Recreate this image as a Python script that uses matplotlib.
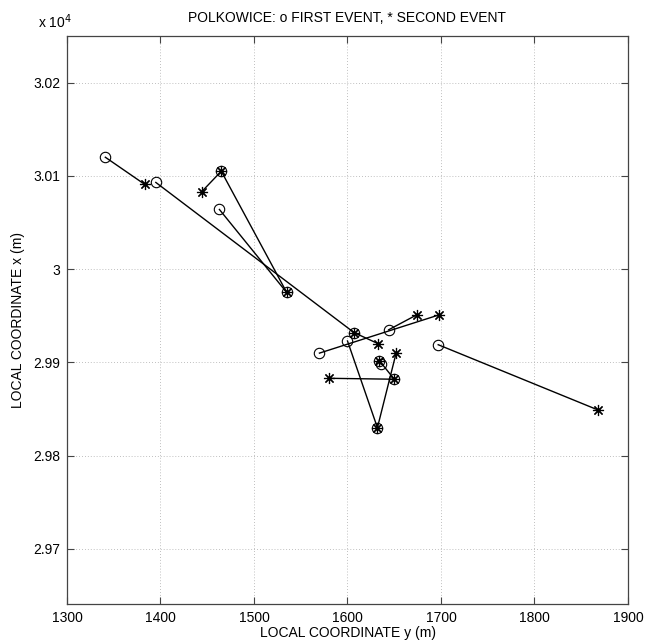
import matplotlib
matplotlib.use("Agg")
import matplotlib.pyplot as plt

# first event (circle) coordinates: local y (m), local x (m)
first_y = [1341, 1395, 1463, 1535, 1465, 1607, 1570, 1644, 1600, 1632, 1634, 1650, 1697, 1636]
first_x = [30120, 30093, 30064, 29975, 30105, 29932, 29910, 29935, 29923, 29830, 29902, 29882, 29919, 29898]
# second event (star) coordinates
second_y = [1383, 1607, 1535, 1465, 1444, 1633, 1698, 1674, 1632, 1652, 1650, 1580, 1868, 1634]
second_x = [30091, 29932, 29975, 30105, 30083, 29920, 29951, 29951, 29830, 29910, 29882, 29883, 29849, 29902]

xticks = [1300, 1400, 1500, 1600, 1700, 1800, 1900]
yticks = [29700, 29800, 29900, 30000, 30100, 30200]
ytick_labels = ["2.97", "2.98", "2.99", "3", "3.01", "3.02"]

plt.rcParams['font.family'] = ['Liberation Sans', 'DejaVu Sans']

fig = plt.figure(figsize=(6.46, 6.41), dpi=100)
ax = fig.add_axes([67/646, 1-604/641, 561/646, 568/641])

for y1, x1, y2, x2 in zip(first_y, first_x, second_y, second_x):
    ax.plot([y1, y2], [x1, x2], color='black', lw=1.0, zorder=3)
ax.plot(second_y, second_x, linestyle='none', marker=(8, 2, 0), markersize=8,
        markeredgecolor='black', markeredgewidth=0.85, zorder=4)
ax.plot(first_y, first_x, linestyle='none', marker='o', markersize=7.5,
        markerfacecolor='none', markeredgecolor='black', markeredgewidth=0.8, zorder=5)

ax.set_xlim(1300, 1900)
ax.set_ylim(29641, 30250)
ax.set_xticks(xticks)
ax.set_xticklabels([str(t) for t in xticks])
ax.set_yticks(yticks)
ax.set_yticklabels(ytick_labels)

ax.grid(True, color='#aaaaaa', linestyle=(0, (1, 2.5)), linewidth=0.6)
ax.set_axisbelow(True)
ax.tick_params(direction='in', top=True, right=True, length=5, width=0.8,
               labelsize=10, pad=5, colors='#444444', labelcolor='black')
for s in ax.spines.values():
    s.set_color('#444444')
    s.set_linewidth(0.9)

ax.set_title("POLKOWICE: o FIRST EVENT, * SECOND EVENT", fontsize=10, pad=10)
ax.set_xlabel("LOCAL COORDINATE y (m)", fontsize=10, labelpad=1)
ax.set_ylabel("LOCAL COORDINATE x (m)", fontsize=10, labelpad=6)
fig.text(38/646, 1-22/641, r"x 10$^{4}$", fontsize=10, va='center', ha='left')

fig.savefig("out.png", dpi=100)
